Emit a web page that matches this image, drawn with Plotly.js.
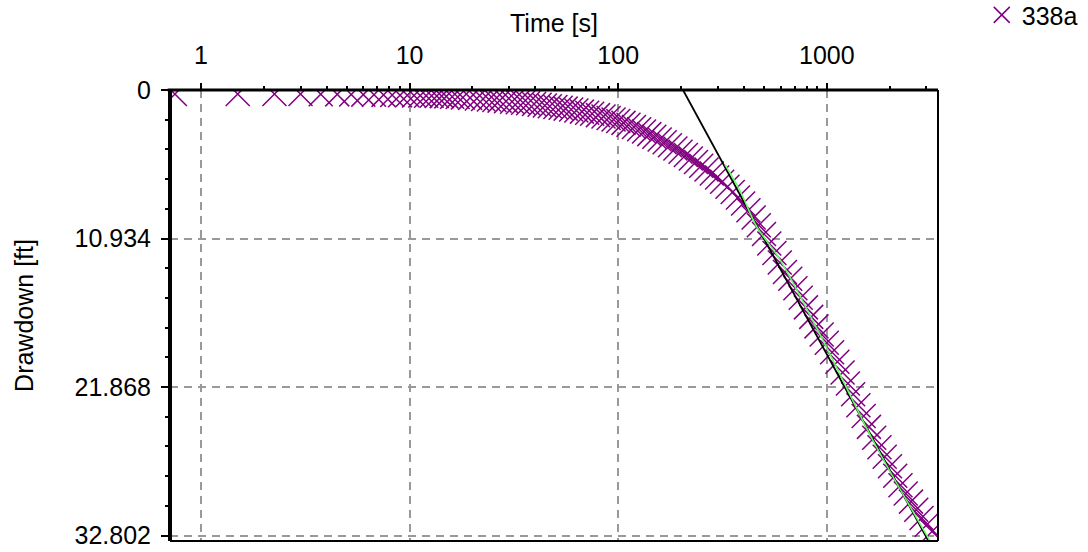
<!DOCTYPE html>
<html>
<head>
<meta charset="utf-8">
<script src="https://cdn.plot.ly/plotly-3.0.1.min.js"></script>
<style>html,body{margin:0;padding:0;background:#fff;}#chart{width:1088px;height:552px;}</style>
</head>
<body>
<div id="chart"></div>
<script>
// Observed drawdown, well 338a
const seriesName = '338a';
const timeS = [0.75,1.5,2.25,3,3.75,4.5,5.25,6,6.75,7.5,8.25,9,9.75,10.5,11.25,12,12.75,13.5,14.25,15,
  16,17,18,19.5,21,22.5,24,25.5,27,29,31,33,35,37,39.5,42,44.5,47,50,53,56,59.5,63,67,71,75,80,85,90,95,
  100,106,112,119,126,133,141,149,158,167,177,188,199,211,223,236,250,265,281,298,315,334,354,375,397,421,446,472,
  500,530,561,595,630,668,707,750,794,842,892,945,1000,1060,1124,1190,1262,1337,1417,1502,1592,1687,1788,1895,
  2008,2128,2255,2390,2533,2684,2845,3015,3195];
const drawdownFt = [0.30,0.30,0.30,0.30,0.31,0.32,0.33,0.34,0.35,0.36,0.37,0.38,0.39,0.40,0.41,0.42,0.43,0.44,0.45,0.47,
  0.50,0.52,0.55,0.58,0.62,0.66,0.70,0.74,0.78,0.82,0.86,0.90,0.94,0.98,1.03,1.09,1.14,1.19,1.25,1.31,1.37,1.44,1.51,1.59,1.67,1.75,1.85,1.95,2.06,2.17,
  2.28,2.42,2.56,2.73,2.89,3.05,3.25,3.44,3.64,3.85,4.07,4.30,4.54,4.78,5.04,5.30,5.57,5.85,6.14,6.44,6.76,7.12,7.51,7.91,8.35,8.85,9.38,9.95,
  10.6,11.3,12.0,12.7,13.4,13.9,14.6,15.3,16.0,16.7,17.4,18.0,18.6,19.3,20.0,20.8,21.6,22.4,23.2,24.0,24.8,25.6,26.3,27.0,
  27.7,28.4,29.1,29.7,30.3,30.9,31.5,32.0,32.5];

// Straight-line (Cooper-Jacob) fit
const lineTime = [204.5, 3413];
const lineDrawdown = [0, 34.5];

// Type-curve fit (green)
const fitTime = [325, 383, 463, 597, 1000, 1666, 3124];
const fitDrawdown = [5.5, 7.4, 10.1, 12.5, 19.0, 25.8, 33.2];

// Axis ticks
const xTickVals = [1, 10, 100, 1000];
const xTickText = ['1', '10', '100', '1000'];
const xMinorVals = [2,3,4,5,6,7,8,9,20,30,40,50,60,70,80,90,200,300,400,500,600,700,800,900,2000,3000];
const yTickVals = [0, 10.934, 21.868, 32.802];
const yTickText = ['0', '10.934', '21.868', '32.802'];

const FONT = 'Liberation Sans, Arial, sans-serif';
const purple = '#800080';

const traces = [
  {
    x: timeS, y: drawdownFt, name: seriesName, type: 'scatter', mode: 'markers',
    marker: {symbol: 'x-thin-open', size: 24, color: purple, line: {color: purple, width: 1.5}},
    showlegend: true
  },
  {
    x: lineTime, y: lineDrawdown, type: 'scatter', mode: 'lines',
    line: {color: '#000000', width: 1.8}, showlegend: false, hoverinfo: 'skip'
  },
  {
    x: fitTime, y: fitDrawdown, type: 'scatter', mode: 'lines',
    line: {color: '#66ff66', width: 1.5, shape: 'spline'}, showlegend: false, hoverinfo: 'skip'
  }
];

const layout = {
  width: 1088, height: 552,
  margin: {l: 170, r: 150, t: 90, b: 11, pad: 0, autoexpand: false},
  paper_bgcolor: '#ffffff', plot_bgcolor: '#ffffff',
  font: {family: FONT, size: 25, color: '#000'},
  xaxis: {
    type: 'log', side: 'top', range: [-0.1486, 3.533], autorange: false, automargin: false,
    tickmode: 'array', tickvals: xTickVals, ticktext: xTickText,
    ticks: 'outside', ticklen: 6, tickwidth: 2, tickcolor: '#000',
    ticklabelstandoff: 9,
    tickfont: {family: FONT, size: 25, color: '#000'},
    showgrid: true, gridcolor: '#999999', gridwidth: 2, griddash: '8px,6px',
    minor: {tickmode: 'array', tickvals: xMinorVals, ticks: 'outside', ticklen: 3, tickwidth: 2, tickcolor: '#000', showgrid: false},
    zeroline: false, showline: false,
    title: {text: 'Time [s]', font: {family: FONT, size: 25, color: '#000'}, standoff: 1}
  },
  yaxis: {
    range: [33.2, 0], autorange: false, automargin: false,
    tickmode: 'array', tickvals: yTickVals, ticktext: yTickText,
    ticks: 'outside', ticklen: 8, tickwidth: 2, tickcolor: '#000',
    ticklabelstandoff: 5,
    tickfont: {family: FONT, size: 25, color: '#000'},
    showgrid: true, gridcolor: '#999999', gridwidth: 2, griddash: '8px,6px',
    minor: {tickmode: 'linear', tick0: 0, dtick: 2.1868, ticks: 'outside', ticklen: 4, tickwidth: 2, tickcolor: '#000', showgrid: false},
    zeroline: false, showline: false,
    title: {text: 'Drawdown [ft]', font: {family: FONT, size: 25, color: '#000'}, standoff: 33}
  },
  legend: {
    x: 1.057, y: 1.166, xanchor: 'left', yanchor: 'middle',
    font: {family: FONT, size: 25, color: '#000'},
    bgcolor: 'rgba(0,0,0,0)', borderwidth: 0
  },
  shapes: [
    {type: 'line', xref: 'paper', yref: 'paper', x0: -0.003, x1: 1, y0: 1, y1: 1, line: {color: '#000', width: 3}},
    {type: 'line', xref: 'paper', yref: 'paper', x0: 0, x1: 0, y0: 0, y1: 1, line: {color: '#000', width: 4}},
    {type: 'line', xref: 'paper', yref: 'paper', x0: 1, x1: 1, y0: 0, y1: 1, line: {color: '#000', width: 2}},
    {type: 'line', xref: 'paper', yref: 'paper', x0: 0, x1: 1, y0: 0, y1: 0, line: {color: '#000', width: 2}}
  ]
};

Plotly.newPlot('chart', traces, layout, {displayModeBar: false, staticPlot: true});
</script>
</body>
</html>
